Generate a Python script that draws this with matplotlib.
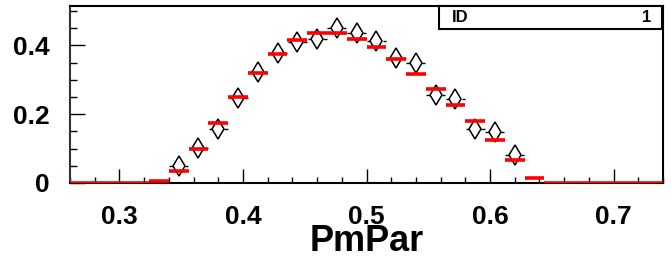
import numpy as np
import matplotlib.pyplot as plt
from matplotlib.ticker import MultipleLocator

# bins: 30 bins from 0.26 to 0.74
x_lo = 0.26
x_hi = 0.74
n_bins = 30

# red histogram (per bin)
hist_vals = [0, 0, 0, 0, 0.006, 0.034, 0.099, 0.175, 0.250, 0.321,
             0.375, 0.417, 0.437, 0.435, 0.419, 0.395, 0.361, 0.316, 0.273, 0.226,
             0.181, 0.126, 0.066, 0.015, 0, 0, 0, 0, 0, 0]

# diamond points (only bins 5..22 are drawn)
pt_bins = list(range(5, 23))
pt_vals = [0.049, 0.103, 0.157, 0.246, 0.323, 0.377, 0.409, 0.418, 0.452,
           0.435, 0.412, 0.362, 0.348, 0.257, 0.244, 0.156, 0.149, 0.080]

x_ticks = [0.3, 0.4, 0.5, 0.6, 0.7]
y_ticks = [0, 0.2, 0.4]
y_labels = ["0", "0.2", "0.4"]

plt.rcParams['font.family'] = ['Liberation Sans', 'DejaVu Sans']
plt.rcParams['font.weight'] = 'bold'

edges = np.linspace(x_lo, x_hi, n_bins + 1)
width = edges[1] - edges[0]
centers = edges[:-1] + width / 2

fig = plt.figure(figsize=(6.71, 2.66), dpi=100)
ax = fig.add_axes([70 / 671, 1 - 183 / 266, 593 / 671, 177 / 266])

# diamonds with short dashes on each side
pc = centers[pt_bins]
pv = np.array(pt_vals)
ax.plot(pc, pv, linestyle='none', marker='d', markersize=10,
        markerfacecolor='none', markeredgecolor='black', markeredgewidth=1.1, zorder=3)
ax.hlines(pv, pc - 0.0077, pc - 0.0050, color='black', linewidth=1.0, zorder=3)
ax.hlines(pv, pc + 0.0050, pc + 0.0077, color='black', linewidth=1.0, zorder=3)

# red histogram drawn as flat segments
ax.hlines(hist_vals, edges[:-1], edges[1:], color='#ff0000', linewidth=2.6, zorder=4)

ax.set_xlim(x_lo, x_hi)
ax.set_ylim(0, 0.5145)

ax.set_xticks(x_ticks)
ax.set_xticklabels([str(t) for t in x_ticks])
ax.set_yticks(y_ticks)
ax.set_yticklabels(y_labels)
ax.xaxis.set_minor_locator(MultipleLocator(0.02))
ax.yaxis.set_minor_locator(MultipleLocator(0.05))

ax.tick_params(axis='x', which='major', direction='in', length=10, width=1.0,
               labelsize=19, pad=16)
ax.tick_params(axis='x', which='minor', direction='in', length=4.5, width=1.0)
ax.tick_params(axis='y', which='major', direction='in', length=11, width=1.0,
               labelsize=19, pad=15)
ax.tick_params(axis='y', which='minor', direction='in', length=5, width=1.0)
for lab in ax.get_xticklabels() + ax.get_yticklabels():
    lab.set_fontweight('bold')

for s in ax.spines.values():
    s.set_linewidth(1.5)
ax.spines['left'].set_color('#333333')

# axis title
ax.set_xlabel("PmPar", fontsize=26, fontweight='bold')
ax.xaxis.label.set_verticalalignment('baseline')
ax.xaxis.set_label_coords(0.5, -(251 - 183) / 177)

# stats box
box = plt.Rectangle((439 / 671, 1 - 29 / 266), (662 - 439) / 671, 23 / 266,
                    transform=fig.transFigure, facecolor='white', edgecolor='black',
                    linewidth=1.5, zorder=5)
fig.add_artist(box)
fig.text(452 / 671, 1 - 17 / 266, "ID", fontsize=12, fontweight='bold',
         ha='left', va='center', zorder=6)
fig.text(651 / 671, 1 - 17 / 266, "1", fontsize=12, fontweight='bold',
         ha='right', va='center', zorder=6)

plt.savefig("out.png", dpi=100)
